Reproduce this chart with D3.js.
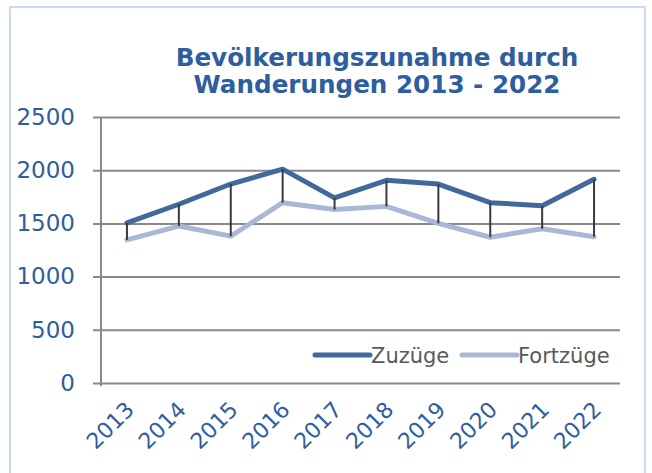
<!DOCTYPE html>
<html>
<head>
<meta charset="utf-8">
<script src="https://cdn.jsdelivr.net/npm/d3@7"></script>
<style>
  html, body { margin: 0; padding: 0; background: #fff; }
  svg { display: block; }
</style>
</head>
<body>
<div id="chart"></div>
<script>
// Daten
const years = ['2013', '2014', '2015', '2016', '2017', '2018', '2019', '2020', '2021', '2022'];
const zuzuege = [1505, 1680, 1870, 2010, 1740, 1905, 1870, 1695, 1665, 1915];
const fortzuege = [1345, 1475, 1380, 1695, 1630, 1660, 1500, 1370, 1450, 1375];
const yTicks = [0, 500, 1000, 1500, 2000, 2500];
const titleLines = ['Bevölkerungszunahme durch', 'Wanderungen 2013 - 2022'];
const seriesNames = ['Zuzüge', 'Fortzüge'];

const W = 652, H = 473;
const blue = '#2e5e9e';
const colZu = '#41699c', colFort = '#a9b8d7';

const svg = d3.select('#chart').append('svg')
    .attr('width', W)
    .attr('height', H);

// Rahmen
svg.append('rect')
    .attr('x', 10).attr('y', 7)
    .attr('width', 635).attr('height', 480)
    .attr('fill', '#fff')
    .attr('stroke', '#c9dbf2')
    .attr('stroke-width', 2);

// Skalen
const x = d3.scalePoint().domain(years).range([101, 620]).padding(0.5);
const y = d3.scaleLinear().domain([0, 2500]).range([383, 117]);

// Titel
const title = svg.append('text')
    .attr('text-anchor', 'middle')
    .attr('fill', blue)
    .attr('font-family', 'DejaVu Sans, sans-serif')
    .attr('font-weight', 'bold')
    .attr('font-size', 23);
title.selectAll('tspan')
    .data(titleLines)
    .enter().append('tspan')
    .attr('x', 377)
    .attr('y', (d, i) => 66 + i * 27)
    .text(d => d);
// Schriftgröße an die Breite der ersten Zeile anpassen
const w0 = title.select('tspan').node().getComputedTextLength();
title.attr('font-size', 23 * 403 / w0);

// Gitternetz + Y-Achse
const yAxis = d3.axisLeft(y)
    .tickValues(yTicks)
    .tickSize(-(620 - 93))
    .tickPadding(18)
    .tickFormat(d3.format('d'));
const gy = svg.append('g')
    .attr('transform', 'translate(93,0)')
    .call(yAxis);
gy.select('.domain').remove();
gy.selectAll('line')
    .attr('stroke', '#898989')
    .attr('stroke-width', 2);
gy.selectAll('text')
    .attr('fill', blue)
    .attr('font-family', 'DejaVu Sans, sans-serif')
    .attr('font-size', 23);

svg.append('line')
    .attr('x1', 101).attr('x2', 101)
    .attr('y1', y(2500)).attr('y2', y(0) + 3)
    .attr('stroke', '#898989')
    .attr('stroke-width', 2);

// X-Achse (nur Beschriftung)
const xAxis = d3.axisBottom(x).tickSize(0).tickPadding(0);
const gx = svg.append('g')
    .attr('transform', 'translate(0,' + y(0) + ')')
    .call(xAxis);
gx.select('.domain').remove();
gx.selectAll('text')
    .attr('fill', blue)
    .attr('font-family', 'DejaVu Sans, sans-serif')
    .attr('font-size', 22)
    .attr('text-anchor', 'end')
    .attr('dy', 0)
    .attr('transform', 'translate(8,28) rotate(-45)');

// Linien
const line = d3.line()
    .x((d, i) => x(years[i]))
    .y(d => y(d));

svg.append('path')
    .datum(fortzuege)
    .attr('d', line)
    .attr('fill', 'none')
    .attr('stroke', colFort)
    .attr('stroke-width', 5)
    .attr('stroke-linejoin', 'round')
    .attr('stroke-linecap', 'round');

svg.append('path')
    .datum(zuzuege)
    .attr('d', line)
    .attr('fill', 'none')
    .attr('stroke', colZu)
    .attr('stroke-width', 5)
    .attr('stroke-linejoin', 'round')
    .attr('stroke-linecap', 'round');

// Hoch-Tief-Linien
svg.append('g').selectAll('line')
    .data(years)
    .enter().append('line')
    .attr('x1', d => x(d)).attr('x2', d => x(d))
    .attr('y1', (d, i) => y(zuzuege[i]))
    .attr('y2', (d, i) => y(fortzuege[i]))
    .attr('stroke', '#3a3a3a')
    .attr('stroke-width', 2);

// Legende
const legend = svg.append('g');
const legX = [315, 462];
const legTextW = [];
seriesNames.forEach((name, i) => {
    legend.append('line')
        .attr('x1', legX[i]).attr('x2', legX[i] + 55)
        .attr('y1', 355).attr('y2', 355)
        .attr('stroke', i === 0 ? colZu : colFort)
        .attr('stroke-width', 5)
        .attr('stroke-linecap', 'round');
    legend.append('text')
        .attr('x', legX[i] + 56)
        .attr('y', 363)
        .attr('fill', '#595959')
        .attr('font-family', 'DejaVu Sans, sans-serif')
        .attr('font-size', 21)
        .text(name);
});
</script>
</body>
</html>
